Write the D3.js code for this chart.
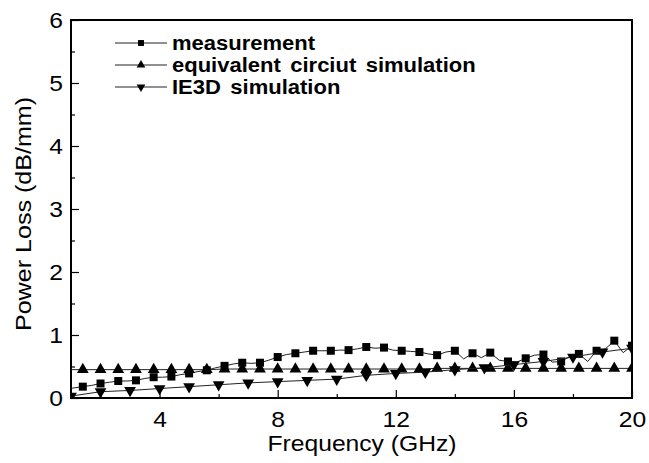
<!DOCTYPE html>
<meta charset="utf-8">
<style>
body { margin: 0; background: #fff; }
text { font-family: "Liberation Sans", Arial, sans-serif; fill: #000; }
.tick text { font-size: 22px; }
.tick line { stroke: #000; stroke-width: 1.2px; }
.legend text { font-size: 20px; font-weight: bold; word-spacing: 3px; }
</style>
<body>
<script src="https://cdn.jsdelivr.net/npm/d3@7"></script>
<script>

// measurement: dense points, a symbol on every second one
var measFreq = [0.8,1.1,1.4,1.7,2.0,2.3,2.6,2.9,3.2,3.5,3.8,4.1,4.4,4.7,5.0,5.3,5.6,5.9,6.2,6.5,
  6.8,7.1,7.4,7.7,8.0,8.3,8.6,8.9,9.2,9.5,9.8,10.1,10.4,10.7,11.0,11.3,11.6,11.9,12.2,12.5,
  12.8,13.1,13.4,13.7,14.0,14.3,14.6,14.9,15.2,15.5,15.8,16.1,16.4,16.7,17.0,17.3,17.6,17.9,18.2,18.5,
  18.8,19.1,19.4,19.7,20.0];
var measLoss = [0.14,0.16,0.18,0.20,0.23,0.25,0.27,0.27,0.28,0.31,0.33,0.33,0.34,0.37,0.39,0.42,0.44,0.48,0.51,0.54,
  0.56,0.55,0.56,0.60,0.65,0.69,0.71,0.73,0.75,0.75,0.75,0.76,0.76,0.78,0.81,0.79,0.80,0.76,0.75,0.74,
  0.73,0.70,0.68,0.73,0.75,0.62,0.71,0.64,0.72,0.60,0.58,0.57,0.63,0.68,0.69,0.57,0.58,0.66,0.70,0.58,
  0.75,0.78,0.91,0.72,0.83];

// equivalent circuit simulation
var eqFreq = [0.8,1.4,2.0,2.6,3.2,3.8,4.4,5.0,5.6,6.2,6.8,7.4,8.0,8.6,9.2,9.8,10.4,11.0,11.6,12.2,
  12.8,13.4,14.0,14.6,15.2,15.8,16.4,17.0,17.6,18.2,18.8,19.4,20.0];
var eqLoss = [0.45,0.45,0.45,0.45,0.45,0.45,0.45,0.45,0.45,0.46,0.46,0.46,0.46,0.46,0.46,0.46,0.46,0.46,0.46,0.46,
  0.46,0.47,0.47,0.47,0.47,0.47,0.47,0.47,0.47,0.47,0.47,0.47,0.47];

// IE3D simulation
var ieFreq = [1,2,3,4,5,6,7,8,9,10,11,12,13,14,15,16,17,18,19,20];
var ieLoss = [0.03,0.10,0.12,0.15,0.18,0.21,0.24,0.26,0.28,0.30,0.36,0.39,0.41,0.45,0.48,0.53,0.58,0.65,0.73,0.79];

var xTicks = [4,8,12,16,20], xMinor = [2,6,10,14,18];
var yTicks = [0,1,2,3,4,5,6], yMinor = [0.5,1.5,2.5,3.5,4.5,5.5];
var legendNames = ["measurement", "equivalent circiut simulation", "IE3D simulation"];

var width = 649, height = 463;
var plotLeft = 71, plotRight = 632, plotTop = 20, plotBottom = 398;

var x = d3.scaleLinear().domain([1, 20]).range([plotLeft, plotRight]);
var y = d3.scaleLinear().domain([0, 6]).range([plotBottom, plotTop]);

var svg = d3.select("body").append("svg")
    .attr("width", width)
    .attr("height", height);

// text in the scan is a bit wider than Arial
function stretch(sel, k) {
  sel.each(function() {
    var w = this.getComputedTextLength();
    this.setAttribute("textLength", w * k);
    this.setAttribute("lengthAdjust", "spacingAndGlyphs");
  });
}

svg.append("clipPath").attr("id", "plot")
  .append("rect")
    .attr("x", plotLeft).attr("y", plotTop)
    .attr("width", plotRight - plotLeft).attr("height", plotBottom - plotTop);

// axes
svg.append("g").attr("transform", "translate(0," + plotBottom + ")")
    .call(d3.axisBottom(x).tickValues(xTicks).tickFormat(d3.format("d"))
      .tickSizeInner(-8).tickSizeOuter(0).tickPadding(13));
svg.append("g").attr("transform", "translate(0," + plotBottom + ")")
    .call(d3.axisBottom(x).tickValues(xMinor).tickSizeInner(-4).tickSizeOuter(0).tickFormat(""));
svg.append("g").attr("transform", "translate(" + plotLeft + ",0)")
    .call(d3.axisLeft(y).tickValues(yTicks).tickFormat(d3.format("d"))
      .tickSizeInner(-8).tickSizeOuter(0).tickPadding(8));
svg.append("g").attr("transform", "translate(" + plotLeft + ",0)")
    .call(d3.axisLeft(y).tickValues(yMinor).tickSizeInner(-4).tickSizeOuter(0).tickFormat(""));
svg.selectAll(".domain").remove();
svg.selectAll(".tick text").attr("font-family", null).attr("font-size", null);
stretch(svg.selectAll(".tick text"), 1.12);

// frame
svg.append("rect")
    .attr("x", plotLeft).attr("y", plotTop)
    .attr("width", plotRight - plotLeft).attr("height", plotBottom - plotTop)
    .attr("fill", "none").attr("stroke", "#000").attr("stroke-width", 2);

var plot = svg.append("g").attr("clip-path", "url(#plot)");

var line = d3.line().x(function(d) { return x(d[0]); }).y(function(d) { return y(d[1]); });

var series = [
  { f: measFreq, v: measLoss, sym: d3.symbolSquare, size: 64, rot: 0, step: 2 },
  { f: eqFreq, v: eqLoss, sym: d3.symbolTriangle, size: 60, rot: 0, step: 1 },
  { f: ieFreq, v: ieLoss, sym: d3.symbolTriangle, size: 60, rot: 180, step: 1 }
];

series.forEach(function(s) {
  var pts = d3.zip(s.f, s.v);
  plot.append("path")
      .datum(pts)
      .attr("fill", "none")
      .attr("stroke", "#222")
      .attr("stroke-width", 1)
      .attr("d", line);
  plot.selectAll(null)
      .data(pts.filter(function(d, i) { return i % s.step === 0; }))
    .enter().append("path")
      .attr("d", d3.symbol().type(s.sym).size(s.size))
      .attr("transform", function(d) {
        return "translate(" + x(d[0]) + "," + y(d[1]) + ") rotate(" + s.rot + ")";
      })
      .attr("fill", "#000");
});

// legend
var legend = svg.append("g").attr("class", "legend");
series.forEach(function(s, i) {
  var ly = 43 + i * 22;
  legend.append("line")
      .attr("x1", 115).attr("x2", 167).attr("y1", ly).attr("y2", ly)
      .attr("stroke", "#222").attr("stroke-width", 1);
  legend.append("path")
      .attr("d", d3.symbol().type(s.sym).size(s.size * 0.55))
      .attr("transform", "translate(141," + ly + ") rotate(" + s.rot + ")")
      .attr("fill", "#000");
  legend.append("text")
      .attr("x", 172).attr("y", ly + 7)
      .text(legendNames[i]);
});
stretch(legend.selectAll("text"), 1.1);

// axis titles
var xt = svg.append("text")
    .attr("x", 362).attr("y", 451)
    .attr("text-anchor", "middle")
    .style("font-size", "22px")
    .text("Frequency (GHz)");
var yt = svg.append("text")
    .attr("transform", "translate(31,214) rotate(-90)")
    .attr("text-anchor", "middle")
    .style("font-size", "22px")
    .text("Power Loss (dB/mm)");
stretch(xt, 1.12);
stretch(yt, 1.14);

</script>
</body>
